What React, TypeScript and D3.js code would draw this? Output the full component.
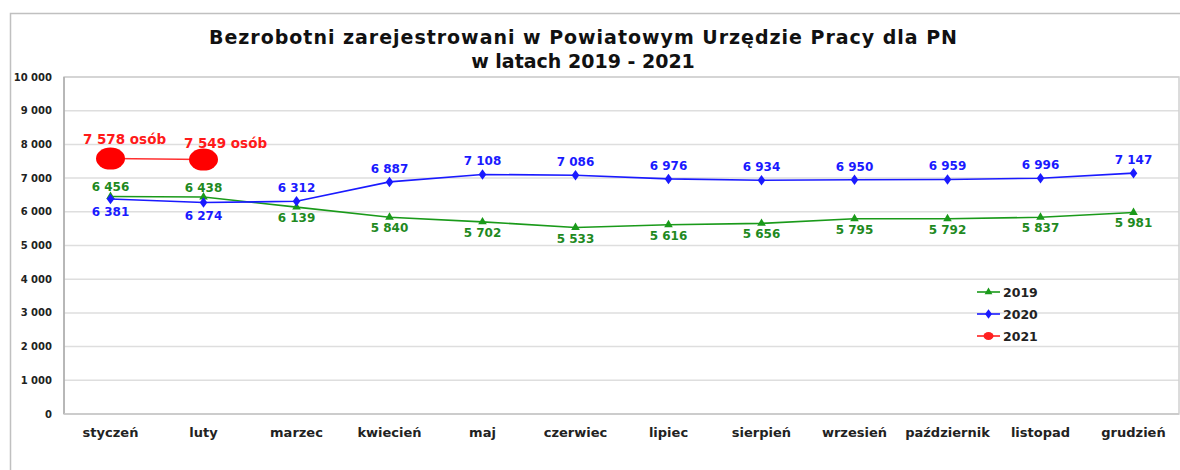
import { useEffect, useRef } from "react";
import * as d3 from 'd3'

const months = ['styczeń', 'luty', 'marzec', 'kwiecień', 'maj', 'czerwiec', 'lipiec', 'sierpień', 'wrzesień', 'październik', 'listopad', 'grudzień']
const v2019 = [6456, 6438, 6139, 5840, 5702, 5533, 5616, 5656, 5795, 5792, 5837, 5981]
const v2020 = [6381, 6274, 6312, 6887, 7108, 7086, 6976, 6934, 6950, 6959, 6996, 7147]
const v2021 = [7578, 7549]
const yTicks = [0, 1000, 2000, 3000, 4000, 5000, 6000, 7000, 8000, 9000, 10000]
const years = ['2019', '2020', '2021']

const W = 1180
const H = 470
const FONT = "'DejaVu Sans', 'Open Sans', sans-serif"

function fmt(n: number): string {
    const s = String(n)
    return s.length > 3 ? s.slice(0, s.length - 3) + ' ' + s.slice(-3) : s
}

function drawChart(svgRef: any) {
    const svg = d3.select(svgRef.current)
    svg.selectAll('*').remove()

    const left = 64, right = 1179, top = 77, bottom = 414
    const x = d3.scaleBand().domain(months).range([left, right + 1])
    const cx = (d: string) => (x(d) as number) + x.bandwidth() / 2
    const y = d3.scaleLinear().domain([0, 10000]).range([bottom, top])

    // outer frame
    svg.append('rect')
        .attr('x', 10.5).attr('y', 13.5)
        .attr('width', W).attr('height', H)
        .attr('fill', 'white').attr('stroke', '#c0c0c0').attr('stroke-width', 1.5)

    // title
    const title = svg.append('text')
        .attr('text-anchor', 'middle')
        .attr('font-family', FONT).attr('font-weight', 'bold').attr('font-size', 19)
        .attr('fill', '#111')
    title.append('tspan').attr('x', 583).attr('y', 44)
        .attr('textLength', 748).attr('lengthAdjust', 'spacing')
        .text('Bezrobotni zarejestrowani w Powiatowym Urzędzie Pracy dla PN')
    title.append('tspan').attr('x', 583).attr('y', 68).text('w latach 2019 - 2021')

    // gridlines
    svg.append('g').selectAll('line')
        .data(yTicks)
        .join('line')
        .attr('x1', left).attr('x2', right)
        .attr('y1', d => y(d)).attr('y2', d => y(d))
        .attr('stroke', '#dedede').attr('stroke-width', 1.5)

    // plot border
    svg.append('rect')
        .attr('x', left).attr('y', top)
        .attr('width', right - left).attr('height', bottom - top)
        .attr('fill', 'none').attr('stroke', '#d0d0d0').attr('stroke-width', 1.5)
    svg.append('line')
        .attr('x1', left).attr('x2', left).attr('y1', top).attr('y2', bottom)
        .attr('stroke', '#a0a0a0').attr('stroke-width', 1.2)
    svg.append('line')
        .attr('x1', left).attr('x2', right).attr('y1', bottom).attr('y2', bottom)
        .attr('stroke', '#c8c8c8').attr('stroke-width', 1.5)

    // y tick labels
    svg.append('g').selectAll('text')
        .data(yTicks)
        .join('text')
        .attr('x', 52).attr('y', d => y(d) + 3.5)
        .attr('text-anchor', 'end')
        .attr('font-family', FONT).attr('font-weight', 'bold').attr('font-size', 10)
        .attr('fill', '#222')
        .text(d => fmt(d))

    // x labels
    svg.append('g').selectAll('text')
        .data(months)
        .join('text')
        .attr('x', d => cx(d)).attr('y', 437)
        .attr('text-anchor', 'middle')
        .attr('font-family', FONT).attr('font-weight', 'bold').attr('font-size', 13)
        .attr('fill', '#222')
        .text(d => d)

    const line = d3.line<number>()
        .x((d, i) => cx(months[i]))
        .y(d => y(d))

    // 2019
    svg.append('path').attr('d', line(v2019))
        .attr('fill', 'none').attr('stroke', '#1a9a1a').attr('stroke-width', 1.6)
    const tri = d3.symbol().type(d3.symbolTriangle).size(32)
    svg.append('g').selectAll('path')
        .data(v2019)
        .join('path')
        .attr('d', tri)
        .attr('transform', (d, i) => `translate(${cx(months[i])},${y(d)})`)
        .attr('fill', '#1a9a1a')

    // 2020
    svg.append('path').attr('d', line(v2020))
        .attr('fill', 'none').attr('stroke', '#1a1aff').attr('stroke-width', 1.6)
    const dia = d3.symbol().type(d3.symbolDiamond).size(32)
    svg.append('g').selectAll('path')
        .data(v2020)
        .join('path')
        .attr('d', dia)
        .attr('transform', (d, i) => `translate(${cx(months[i])},${y(d)}) scale(1.25,1)`)
        .attr('fill', '#1a1aff')

    // 2021
    svg.append('path').attr('d', line(v2021))
        .attr('fill', 'none').attr('stroke', '#ff3030').attr('stroke-width', 1.5)
    svg.append('g').selectAll('ellipse')
        .data(v2021)
        .join('ellipse')
        .attr('cx', (d, i) => cx(months[i])).attr('cy', d => y(d))
        .attr('rx', 14.5).attr('ry', 11)
        .attr('fill', '#ff0000')

    // data labels
    svg.append('g').selectAll('text')
        .data(v2019)
        .join('text')
        .attr('x', (d, i) => cx(months[i]))
        .attr('y', (d, i) => i < 2 ? y(d) - 5 : y(d) + 15)
        .attr('text-anchor', 'middle')
        .attr('font-family', FONT).attr('font-weight', 'bold').attr('font-size', 12)
        .attr('fill', '#1f8a1f')
        .text(d => fmt(d))
    svg.append('g').selectAll('text')
        .data(v2020)
        .join('text')
        .attr('x', (d, i) => cx(months[i]))
        .attr('y', (d, i) => i < 2 ? y(d) + 17 : y(d) - 9)
        .attr('text-anchor', 'middle')
        .attr('font-family', FONT).attr('font-weight', 'bold').attr('font-size', 12)
        .attr('fill', '#1a1aff')
        .text(d => fmt(d))
    svg.append('g').selectAll('text')
        .data(v2021)
        .join('text')
        .attr('x', (d, i) => cx(months[i]) + (i === 0 ? 14 : 22))
        .attr('y', (d, i) => y(d) - 15 + (i === 0 ? 0 : 3))
        .attr('text-anchor', 'middle')
        .attr('font-family', FONT).attr('font-weight', 'bold').attr('font-size', 13.5)
        .attr('fill', '#ff1a1a')
        .text(d => fmt(d) + ' osób')

    // legend
    const legColors = ['#1a9a1a', '#1a1aff', '#ff2020']
    const leg = svg.append('g')
    years.forEach((yr, i) => {
        const ly = 292 + i * 22
        leg.append('line').attr('x1', 977).attr('x2', 1000).attr('y1', ly).attr('y2', ly)
            .attr('stroke', legColors[i]).attr('stroke-width', 1.6)
        if (i === 0) leg.append('path').attr('d', d3.symbol().type(d3.symbolTriangle).size(26)).attr('transform', `translate(988.5,${ly})`).attr('fill', legColors[i])
        if (i === 1) leg.append('path').attr('d', d3.symbol().type(d3.symbolDiamond).size(26)).attr('transform', `translate(988.5,${ly}) scale(1.25,1)`).attr('fill', legColors[i])
        if (i === 2) leg.append('ellipse').attr('cx', 988.5).attr('cy', ly).attr('rx', 5).attr('ry', 4).attr('fill', legColors[i])
        leg.append('text').attr('x', 1003).attr('y', ly + 4.5)
            .attr('font-family', FONT).attr('font-weight', 'bold').attr('font-size', 12.5)
            .attr('fill', '#222')
            .text(yr)
    })
}

export default function App() {
    const svgRef = useRef<SVGSVGElement>(null)
    useEffect(() => {
        drawChart(svgRef)
    }, [])
    return (
        <div style={{ position: 'absolute', left: 0, top: 0, width: W, height: H, background: 'white' }}>
            <svg ref={svgRef} width={W} height={H} style={{ display: 'block' }} />
        </div>
    )
}
